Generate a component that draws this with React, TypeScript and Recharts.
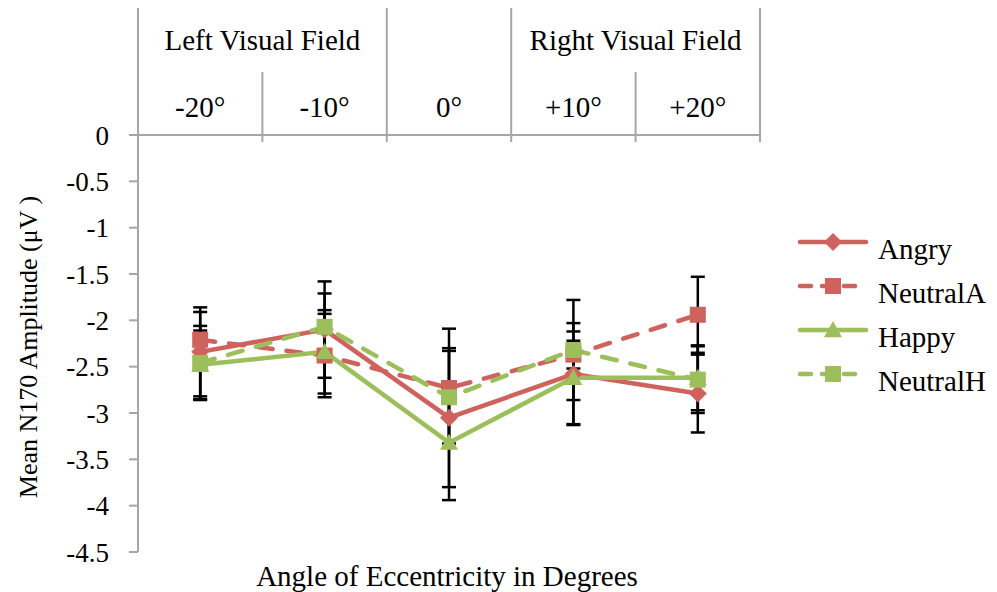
import React from "react";
import { LineChart, Line, XAxis, YAxis, ErrorBar, Legend } from "recharts";

const categories = ["-20°", "-10°", "0°", "+10°", "+20°"];
const yTicks = [0, -0.5, -1, -1.5, -2, -2.5, -3, -3.5, -4, -4.5];

const angry = [-2.34, -2.1, -3.05, -2.58, -2.79];
const angryErr = [0.48, 0.52, 0.75, 0.55, 0.42];
const neutralA = [-2.21, -2.38, -2.73, -2.37, -1.94];
const neutralAErr = [0.3, 0.45, 0.64, 0.15, 0.41];
const happy = [-2.48, -2.34, -3.32, -2.62, -2.62];
const happyErr = [0.37, 0.45, 0.62, 0.5, 0.35];
const neutralH = [-2.46, -2.07, -2.83, -2.32, -2.64];
const neutralHErr = [0.4, 0.36, 0.5, 0.54, 0.36];

const RED = "#D0625E";
const GREEN = "#9DBF5B";
const GRID = "#A6A6A6";
const FONT = "'Liberation Serif', 'Times New Roman', serif";
const FS = 29;

const data = categories.map((c, i) => ({
  pos: i + 0.5,
  label: c,
  angry: angry[i],
  angryErr: angryErr[i],
  neutralA: neutralA[i],
  neutralAErr: neutralAErr[i],
  happy: happy[i],
  happyErr: happyErr[i],
  neutralH: neutralH[i],
  neutralHErr: neutralHErr[i],
}));

const headerTicks = [0, 0.5, 1, 1.5, 2, 2.5, 3, 3.5, 4, 4.5, 5];
// group label spans: centred on boundary 1 (left) and boundary 4 (right)
const groupAt: Record<number, string> = { 1: "Left Visual Field", 4: "Right Visual Field" };

const Diamond = ({ cx, cy, fill, r = 9 }: any) => (
  <path d={`M${cx},${cy - r}L${cx + r},${cy}L${cx},${cy + r}L${cx - r},${cy}Z`} fill={fill} />
);
const Square = ({ cx, cy, fill, s = 16 }: any) => (
  <rect x={cx - s / 2} y={cy - s / 2} width={s} height={s} fill={fill} />
);
const Triangle = ({ cx, cy, fill, s = 18 }: any) => (
  <path d={`M${cx},${cy - s * 0.5}L${cx + s / 2},${cy + s * 0.4}L${cx - s / 2},${cy + s * 0.4}Z`} fill={fill} />
);

const series = [
  { key: "angry", name: "Angry", color: RED, dash: undefined, marker: Diamond },
  { key: "neutralA", name: "NeutralA", color: RED, dash: "15 14", marker: Square },
  { key: "happy", name: "Happy", color: GREEN, dash: undefined, marker: Triangle },
  { key: "neutralH", name: "NeutralH", color: GREEN, dash: "15 14", marker: Square },
];

// header table above the plot: boundary lines, degree labels, field labels
const HeaderTick = (props: any) => {
  const { x, y, payload } = props;
  const v = payload.value;
  if (Number.isInteger(v)) {
    const full = v === 0 || v === 2 || v === 3 || v === 5;
    return (
      <g>
        <line x1={x} x2={x} y1={full ? y - 127 : y - 63} y2={y + 7} stroke={GRID} strokeWidth={2} />
        {groupAt[v] && (
          <text x={x} y={y - 85} textAnchor="middle" fontFamily={FONT} fontSize={FS} fill="#000">
            {groupAt[v]}
          </text>
        )}
      </g>
    );
  }
  return (
    <text x={x} y={y - 18} textAnchor="middle" fontFamily={FONT} fontSize={FS} fill="#000">
      {categories[Math.floor(v)]}
    </text>
  );
};

const LegendContent = () => (
  <svg width={200} height={180} style={{ display: "block", overflow: "visible" }}>
    {series.map((s, i) => {
      const M = s.marker;
      const cy = 17 + i * 44;
      return (
        <g key={s.key}>
          <line
            x1={7}
            x2={73}
            y1={cy}
            y2={cy}
            stroke={s.color}
            strokeWidth={4.5}
            strokeDasharray={s.dash ? "11 11" : undefined}
            strokeLinecap="round"
          />
          <M cx={40} cy={cy} fill={s.color} />
          <text x={85} y={cy + 17} fontFamily={FONT} fontSize={FS} fill="#000">
            {s.name}
          </text>
        </g>
      );
    })}
  </svg>
);

export default function App() {
  return (
    <div style={{ position: "absolute", left: 0, top: 0, background: "#fff" }}>
      <LineChart width={997} height={592} data={data} margin={{ top: 0, right: 237, bottom: 0, left: 0 }}>
        <XAxis
          xAxisId="top"
          orientation="top"
          type="number"
          dataKey="pos"
          domain={[0, 5]}
          ticks={headerTicks}
          tick={<HeaderTick />}
          tickSize={0}
          tickMargin={0}
          tickLine={false}
          interval={0}
          height={135}
          axisLine={{ stroke: GRID, strokeWidth: 2 }}
        />
        <XAxis
          xAxisId="bottom"
          orientation="bottom"
          type="number"
          dataKey="pos"
          domain={[0, 5]}
          tick={false}
          tickLine={false}
          axisLine={false}
          height={40}
          label={() => (
            <text x={447} y={586} textAnchor="middle" fontFamily={FONT} fontSize={FS} fill="#000">
              Angle of Eccentricity in Degrees
            </text>
          )}
        />
        <YAxis
          domain={[-4.5, 0]}
          ticks={yTicks}
          interval={0}
          width={138}
          tickSize={9}
          tickMargin={20}
          tick={{ fontFamily: FONT, fontSize: 27, fill: "#000" }}
          tickLine={{ stroke: GRID, strokeWidth: 2 }}
          axisLine={{ stroke: GRID, strokeWidth: 2 }}
          label={() => (
            <text
              x={28}
              y={347}
              transform="rotate(-90, 28, 347)"
              textAnchor="middle"
              dominantBaseline="central"
              fontFamily={FONT}
              fontSize={26}
              fill="#000"
            >
              Mean N170 Amplitude (μV )
            </text>
          )}
        />
        <Legend
          layout="vertical"
          verticalAlign="middle"
          align="center"
          content={<LegendContent />}
          wrapperStyle={{ left: 793, top: 225, width: 200, height: 180 }}
        />
        {series.map((s) => {
          const M = s.marker;
          return (
            <Line
              key={s.key}
              xAxisId="top"
              dataKey={s.key}
              name={s.name}
              stroke={s.color}
              strokeWidth={4.5}
              strokeDasharray={s.dash}
              strokeLinecap="round"
              isAnimationActive={false}
              dot={(p: any) => <M key={p.index} cx={p.cx} cy={p.cy} fill={s.color} />}
              activeDot={false}
            >
              <ErrorBar dataKey={s.key + "Err"} direction="y" width={7} stroke="#000" strokeWidth={2.5} />
            </Line>
          );
        })}
      </LineChart>
    </div>
  );
}
